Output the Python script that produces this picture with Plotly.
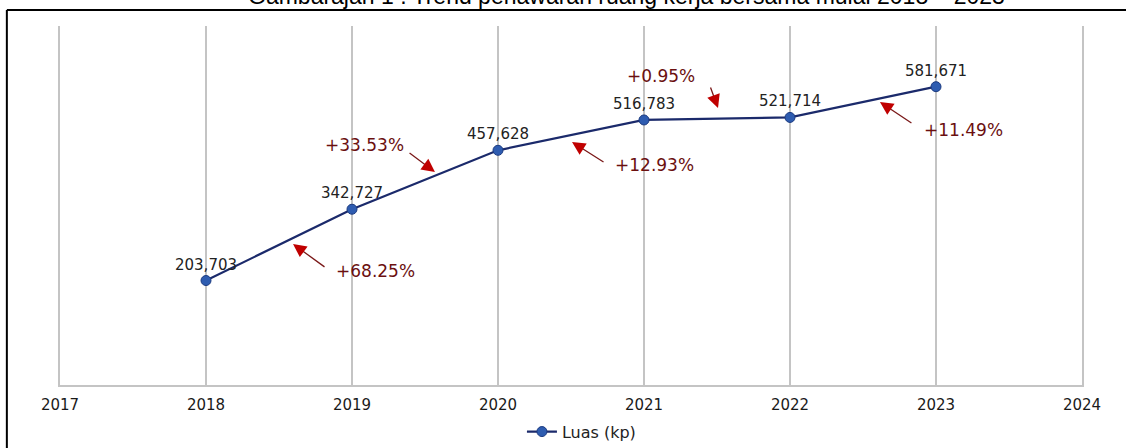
import plotly.graph_objects as go

years = [2018, 2019, 2020, 2021, 2022, 2023]
luas = [203703, 342727, 457628, 516783, 521714, 581671]
tick_years = [2017, 2018, 2019, 2020, 2021, 2022, 2023, 2024]
value_labels = ["203,703", "342,727", "457,628", "516,783", "521,714", "581,671"]

growth_labels = ["+68.25%", "+33.53%", "+12.93%", "+0.95%", "+11.49%"]
growth_text_x = [2019.158, 2019.089, 2021.075, 2021.116, 2023.185]
growth_text_y = [222300, 468000, 429000, 602550, 497250]
arrow_head_x = [2018.596, 2019.568, 2020.507, 2021.507, 2022.616]
arrow_head_y = [274950, 415350, 473850, 540150, 551850]
arrow_tail_x = [2018.822, 2019.384, 2020.733, 2021.452, 2022.842]
arrow_tail_y = [228150, 454350, 432900, 583050, 508950]

title = "Gambarajah 1 : Trend penawaran ruang kerja bersama mulai 2018 – 2023"

fig = go.Figure()
fig.add_trace(go.Scatter(
    x=years, y=luas, mode="lines+markers+text", name="Luas (kp)",
    text=value_labels, textposition="top center",
    textfont=dict(family="DejaVu Sans", size=15, color="#222222"),
    line=dict(color="#1b2a6b", width=2.2),
    marker=dict(size=10, color="#2e5cb0", line=dict(color="#1b3a80", width=1)),
))

annotations = []
for tx, ty, lbl in zip(growth_text_x, growth_text_y, growth_labels):
    annotations.append(dict(x=tx, y=ty, xref="x", yref="y", text=lbl, showarrow=False,
                            font=dict(family="DejaVu Sans", size=17, color="#6b1010")))
for hx, hy, sx, sy in zip(arrow_head_x, arrow_head_y, arrow_tail_x, arrow_tail_y):
    # dark shaft
    annotations.append(dict(x=hx + (sx - hx) * 0.25, y=hy + (sy - hy) * 0.25,
                            xref="x", yref="y", ax=sx, ay=sy,
                            axref="x", ayref="y", text="", showarrow=True,
                            arrowhead=0, arrowwidth=1.3, arrowcolor="#7a1818"))
    # red head
    annotations.append(dict(x=hx, y=hy, xref="x", yref="y",
                            ax=hx + (sx - hx) * 0.35, ay=hy + (sy - hy) * 0.35,
                            axref="x", ayref="y", text="", showarrow=True,
                            arrowhead=2, arrowsize=2.2, arrowwidth=1.2,
                            arrowcolor="#c00000"))
annotations.append(dict(x=0.554, y=1.042, xref="paper", yref="paper", text=title,
                        showarrow=False, xanchor="center", yanchor="bottom",
                        font=dict(family="Liberation Sans", size=23, color="#000000")))
fig.update_layout(annotations=annotations)

fig.add_shape(type="line", xref="paper", yref="paper", x0=-0.052, x1=-0.052,
              y0=1.0446, y1=-0.3, line=dict(color="#000000", width=2))
fig.add_shape(type="line", xref="paper", yref="paper", x0=-0.052, x1=1.1,
              y0=1.0446, y1=1.0446, line=dict(color="#000000", width=2))

fig.update_xaxes(range=[2017, 2024], tickvals=tick_years, ticktext=[str(t) for t in tick_years],
                 showgrid=True, gridcolor="#c4c4c4", gridwidth=1.5,
                 showline=True, linecolor="#c4c4c4", linewidth=1.5,
                 zeroline=False, ticks="", ticklabelstandoff=5,
                 tickfont=dict(family="DejaVu Sans", size=15, color="#1a1a1a"))
fig.update_yaxes(range=[0, 700000], showgrid=False, showticklabels=False, zeroline=False,
                 showline=True, mirror=True, linecolor="#c4c4c4", linewidth=1.5, ticks="")

fig.update_layout(
    width=1126, height=448,
    margin=dict(l=60, r=44, t=26, b=63, autoexpand=False),
    plot_bgcolor="white", paper_bgcolor="white",
    showlegend=True,
    legend=dict(orientation="h", x=0.452, xanchor="left", y=-0.13, yanchor="middle",
                font=dict(family="DejaVu Sans", size=16, color="#222222")),
)

fig.write_html("out.html", config={"displayModeBar": False},
               post_script="document.body.style.margin='0px';")
